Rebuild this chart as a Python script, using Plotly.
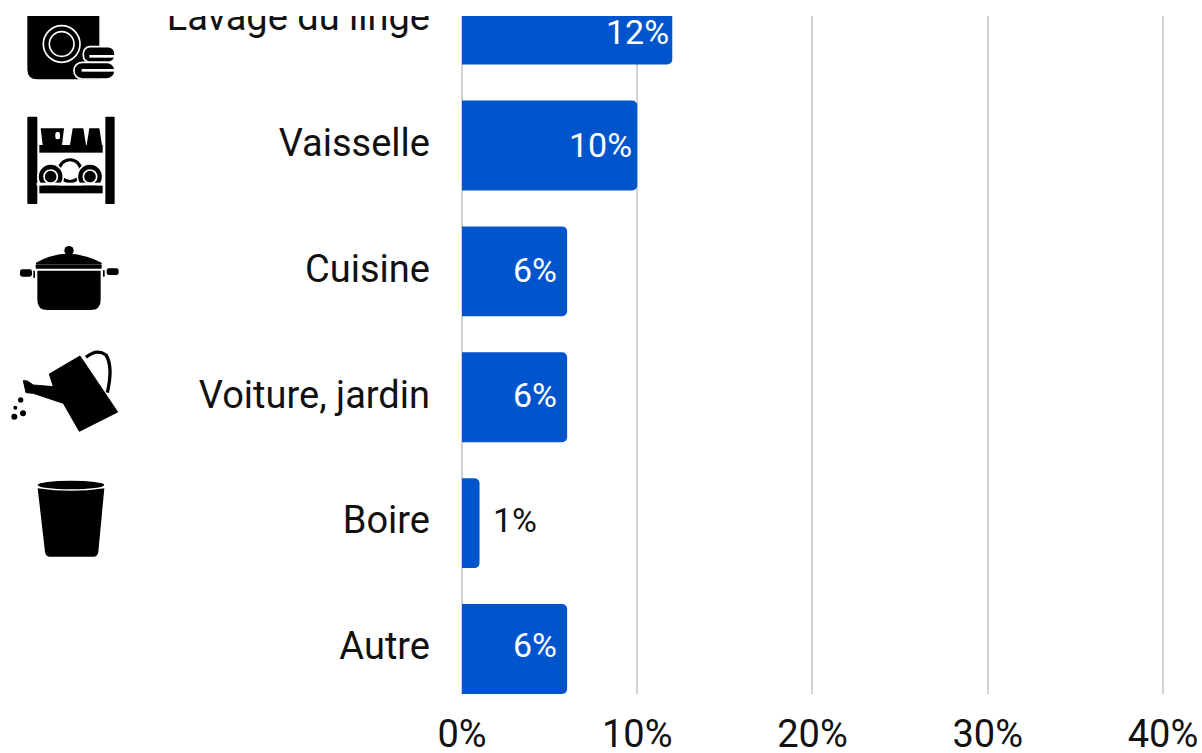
import base64
import plotly.graph_objects as go

categories = ["Lavage du linge", "Vaisselle", "Cuisine", "Voiture, jardin", "Boire", "Autre"]
values = [12, 10, 6, 6, 1, 6]
x_ticks = [0, 10, 20, 30, 40]
x_tick_labels = ["0%", "10%", "20%", "30%", "40%"]
value_labels = ["12%", "10%", "6%", "6%", "1%", "6%"]

W, H = 1202, 753
L, R, T, B = 462, 38, 16, 59
FONT = "Roboto"
BLUE = "#0055CC"
TICK_SIZE = 38
Y_RANGE = [-0.357, 5.028]
LABEL_LIFT = 0.024  # the category labels sit about 3px above the bar centres

label_xshift = [-1, -3, -8, -8, 11, -8]
label_yshift = [-12, 0, 1, 2, 3, 4]
label_anchor = ["right", "right", "right", "right", "left", "right"]
label_color = ["white", "white", "white", "white", "#111111", "white"]

fig = go.Figure()
fig.add_bar(
    y=categories[::-1], x=values[::-1], orientation="h",
    marker=dict(color=BLUE, cornerradius=5, line=dict(width=0)),
    width=0.714, hoverinfo="skip",
)
# carries the category labels on a slightly lifted copy of the axis; draws nothing
fig.add_scatter(y=categories[::-1], x=values[::-1], yaxis="y2", mode="lines",
                line=dict(width=0), hoverinfo="skip")

for c, v, t, xs, ys, a, col in zip(categories, values, value_labels, label_xshift, label_yshift, label_anchor, label_color):
    fig.add_annotation(x=v, y=c, yref="y", text=t, showarrow=False, xanchor=a, xshift=xs, yshift=ys,
                       font=dict(family=FONT, size=34, color=col))

svg_top = """<svg xmlns='http://www.w3.org/2000/svg' viewBox='0 0 420 660'>
<path d='M82 0H298V238H112Q82 238 82 208Z'/>
<circle cx='185' cy='132' r='55' fill='none' stroke='#fff' stroke-width='5'/>
<circle cx='185' cy='132' r='37' fill='none' stroke='#fff' stroke-width='5'/>
<rect x='250' y='140' width='95' height='47' rx='20' stroke='#fff' stroke-width='5'/>
<rect x='222' y='187' width='123' height='50' rx='24' stroke='#fff' stroke-width='5'/>
<rect x='268' y='165' width='80' height='8' fill='#fff'/>
<rect x='245' y='207' width='105' height='8' fill='#fff'/>
<rect x='82' y='350' width='30' height='262' rx='3'/>
<rect x='316' y='350' width='28' height='262' rx='3'/>
<rect x='118' y='435' width='190' height='23'/>
<path d='M122 385H192L186 435H128Z'/><rect x='166' y='396' width='14' height='22' fill='#fff' rx='6'/>
<path d='M218 385H250L258 435H210Z'/>
<path d='M268 385H298L306 435H260Z'/>
<circle cx='210' cy='512' r='40' stroke='#fff' stroke-width='5'/>
<circle cx='210' cy='512' r='28' fill='#fff'/>
<circle cx='152' cy='530' r='38' stroke='#fff' stroke-width='5'/>
<circle cx='270' cy='530' r='38' stroke='#fff' stroke-width='5'/>
<circle cx='152' cy='530' r='20' stroke='#fff' stroke-width='5'/>
<circle cx='270' cy='530' r='20' stroke='#fff' stroke-width='5'/>
<rect x='110' y='548' width='205' height='9' fill='#fff'/>
<rect x='118' y='557' width='190' height='23'/>
</svg>"""

svg_bottom = """<svg xmlns='http://www.w3.org/2000/svg' viewBox='0 0 420 1020'>
<circle cx='207' cy='62' r='14'/>
<path d='M108 98Q200 45 305 98V102H108Z'/>
<rect x='107' y='103' width='198' height='13' rx='3'/>
<path d='M112 122H302V210Q302 240 272 240H142Q112 240 112 210Z'/>
<rect x='60' y='118' width='36' height='22' rx='7'/><rect x='100' y='122' width='5' height='22' rx='2'/>
<rect x='320' y='115' width='36' height='20' rx='7'/><rect x='309' y='120' width='5' height='20' rx='2'/>
<path d='M148 432L240 378L353 546L238 604L190 520L100 490L78 488L70 452L82 453L100 465L160 470Z' stroke='#000' stroke-width='3' stroke-linejoin='round'/>
<path d='M258 382Q290 355 318 375Q340 410 322 488' fill='none' stroke='#000' stroke-width='10'/>
<circle cx='62' cy='510' r='8'/><circle cx='46' cy='533' r='6'/><circle cx='69' cy='550' r='9'/><circle cx='43' cy='560' r='9'/>
<ellipse cx='213' cy='765' rx='100' ry='13'/>
<path d='M113 775Q213 790 313 775L295 965Q293 980 280 980H150Q137 980 135 965Z'/>
</svg>"""

def uri(s):
    return "data:image/svg+xml;base64," + base64.b64encode(s.encode()).decode()

pw, ph = W - L - R, H - T - B
def place(src, x, y, w, h):
    fig.add_layout_image(source=uri(src), xref="paper", yref="paper",
                         x=(x - L) / pw, y=1 - (y - T) / ph,
                         sizex=w / pw, sizey=h / ph, xanchor="left", yanchor="top",
                         sizing="stretch", layer="above")
place(svg_top, 0, 0, 140, 220)
place(svg_bottom, 0, 230, 140, 340)

# white band that trims the top of the picture, as in the reference
fig.add_shape(type="rect", xref="paper", yref="paper", x0=-L / pw, x1=(W - L) / pw,
              y0=1, y1=1 + T / ph, fillcolor="white", line_width=0, layer="above")

fig.update_layout(
    width=W, height=H, margin=dict(l=L, r=R, t=T, b=B, pad=0, autoexpand=False),
    paper_bgcolor="white", plot_bgcolor="white", showlegend=False, bargap=0.3,
    font=dict(family=FONT, size=TICK_SIZE, color="#111111"),
    yaxis2=dict(type="category", categoryorder="array", categoryarray=categories[::-1],
                overlaying="y", side="left", anchor="x",
                range=[Y_RANGE[0] - LABEL_LIFT, Y_RANGE[1] - LABEL_LIFT],
                showgrid=False, showline=False, zeroline=False, ticks="", ticklabelstandoff=31,
                tickfont=dict(family=FONT, size=TICK_SIZE, color="#111111")),
)
fig.update_xaxes(range=[0, 40.06], tickvals=x_ticks, ticktext=x_tick_labels, showgrid=True,
                 gridcolor="#d2d2d2", gridwidth=1.5, zeroline=True, zerolinecolor="#d2d2d2",
                 zerolinewidth=1.5, showline=False, ticks="", ticklabelstandoff=14,
                 tickfont=dict(family=FONT, size=TICK_SIZE, color="#111111"))
fig.update_yaxes(type="category", categoryorder="array", categoryarray=categories[::-1],
                 range=Y_RANGE, showgrid=False, showline=False, ticks="", showticklabels=False,
                 selector=dict(overlaying=None))

fig.write_html("out.html", post_script="document.body.style.margin='0';document.body.style.overflow='hidden';",
               config={"displayModeBar": False})
